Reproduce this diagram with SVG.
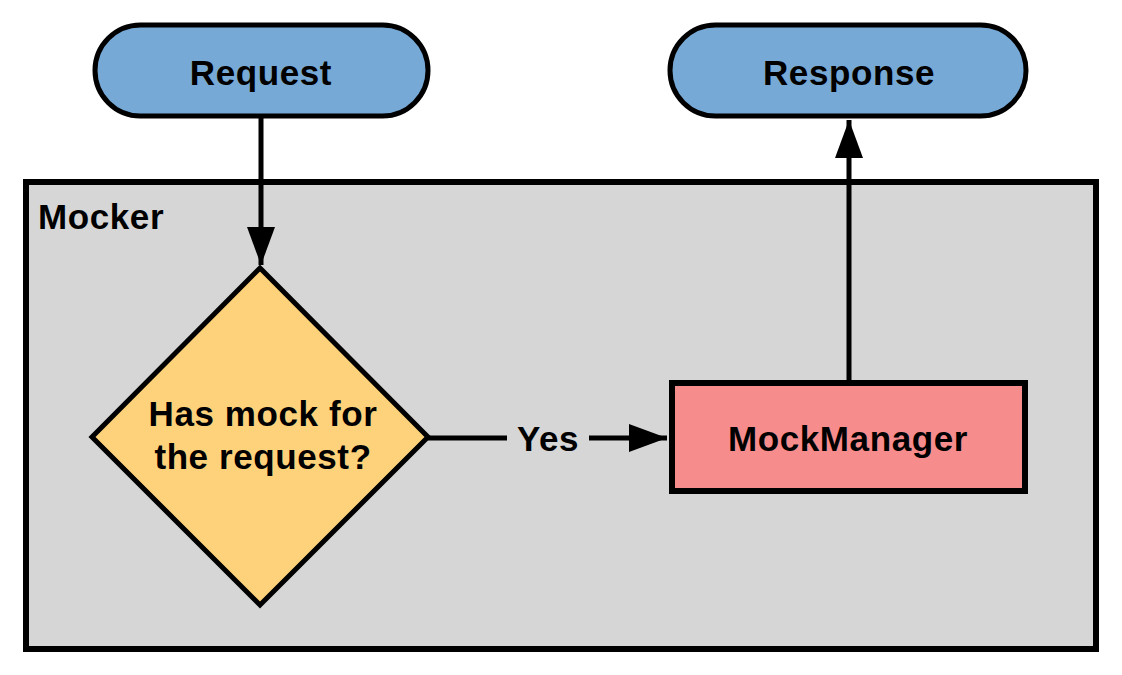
<svg xmlns="http://www.w3.org/2000/svg" width="1122" height="675" viewBox="0 0 1122 675">
<style>
.t{font-family:"Liberation Sans",Arial,sans-serif;font-weight:bold;font-size:35px;fill:#000;letter-spacing:0.6px}
.m{text-anchor:middle}
.pill{fill:#76A9D5;stroke:#000;stroke-width:5}
.edge{stroke:#000;stroke-width:5;fill:none}
</style>
<defs>
<marker id="ah" markerUnits="userSpaceOnUse" markerWidth="40" markerHeight="30" refX="38" refY="14" orient="auto">
<path d="M0,0 L38,14 L0,28 Z" fill="#000"/>
</marker>
</defs>
<rect width="1122" height="675" fill="#fff"/>
<g id="mocker">
<rect x="26" y="182" width="1070" height="467" fill="#D6D6D6" stroke="#000" stroke-width="6"/>
<text class="t" x="38" y="229">Mocker</text>
</g>
<g id="request">
<rect class="pill" x="95" y="25" width="333" height="91" rx="45.5"/>
<text class="t m" x="261" y="85">Request</text>
</g>
<g id="response">
<rect class="pill" x="670" y="25" width="356" height="91" rx="45.5"/>
<text class="t m" x="849" y="85">Response</text>
</g>
<g id="decision">
<path d="M260,268 L428,437 L260,605 L92,437 Z" fill="#FED27A" stroke="#000" stroke-width="5" stroke-linejoin="miter"/>
<text class="t m" x="263" y="426">Has mock for</text>
<text class="t m" x="263" y="469">the request?</text>
</g>
<g id="mockmanager">
<rect x="672" y="383" width="353" height="108" fill="#F78C8C" stroke="#000" stroke-width="6"/>
<text class="t m" x="848" y="451">MockManager</text>
</g>
<g id="connectors">
<path class="edge" d="M261,116 L261,265" marker-end="url(#ah)"/>
<path class="edge" d="M849,380 L849,120" marker-end="url(#ah)"/>
<path class="edge" d="M428,438 L507,438"/>
<path class="edge" d="M589,438 L667,438" marker-end="url(#ah)"/>
<text class="t m" x="548" y="451">Yes</text>
</g>
</svg>
